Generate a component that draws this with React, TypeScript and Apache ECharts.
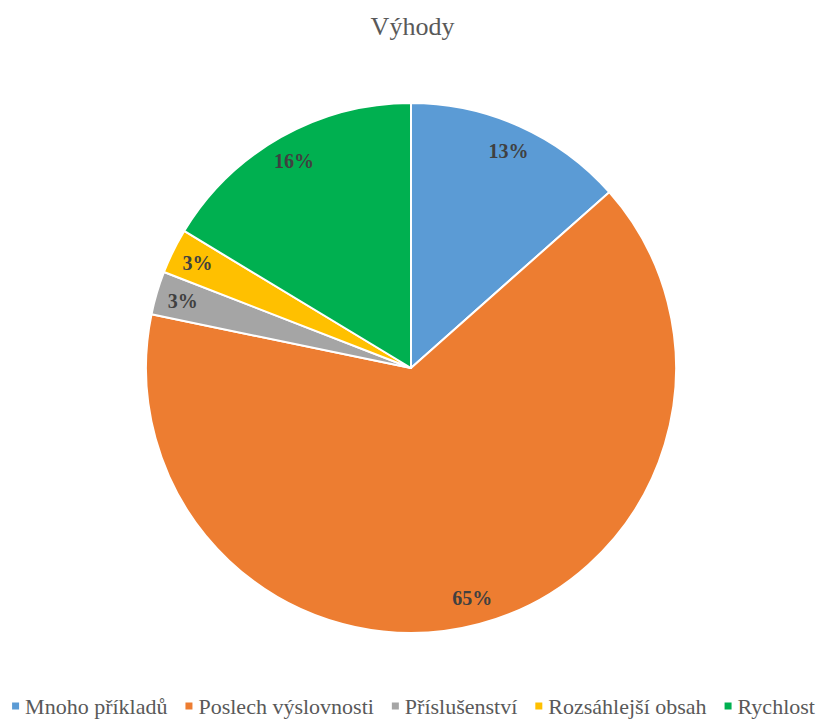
import React, { useEffect, useRef } from "react";
import * as echarts from "echarts";

const categories = ["Mnoho příkladů", "Poslech výslovnosti", "Příslušenství", "Rozsáhlejší obsah", "Rychlost"];
const values = [13.45, 64.8, 2.65, 2.75, 16.35];
const colors = ["#5B9BD5", "#ED7D31", "#A5A5A5", "#FFC000", "#00B050"];
const titleText = "Výhody";
const SERIF = "'Liberation Serif', 'Times New Roman', serif";

export default function App() {
  const ref = useRef<HTMLDivElement>(null);
  useEffect(() => {
    if (!ref.current) return;
    const chart = echarts.init(ref.current, null, { renderer: "svg" });
    const total = values.reduce((a, b) => a + b, 0);
    const data = categories.map((name, i) => ({ name, value: values[i], itemStyle: { color: colors[i] } }));
    chart.setOption({
      animation: false,
      backgroundColor: "#ffffff",
      textStyle: { fontFamily: SERIF },
      title: {
        text: titleText,
        left: "center",
        top: 8,
        textStyle: { fontFamily: SERIF, fontSize: 26, fontWeight: "normal", color: "#595959" },
      },
      legend: {
        data: categories,
        bottom: 3,
        left: "center",
        icon: "rect",
        itemWidth: 9,
        itemHeight: 9,
        itemGap: 16,
        textStyle: { fontFamily: SERIF, fontSize: 22, color: "#595959" },
      },
      series: [
        {
          type: "pie",
          center: [411, 368],
          radius: [0, 265],
          startAngle: 90,
          clockwise: true,
          data,
          label: { show: false },
          labelLine: { show: false },
          itemStyle: { borderColor: "#ffffff", borderWidth: 2 },
          emphasis: { disabled: true },
        },
        {
          type: "pie",
          center: [411, 368],
          radius: [205, 265],
          startAngle: 90,
          clockwise: true,
          silent: true,
          data: categories.map((name, i) => ({ name, value: values[i], itemStyle: { color: "rgba(0,0,0,0)" } })),
          itemStyle: { borderWidth: 0 },
          label: {
            show: true,
            position: "inside",
            formatter: (p: any) => Math.round((p.value / total) * 100) + "%",
            fontFamily: SERIF,
            fontSize: 20,
            fontWeight: "bold",
            color: "#404040",
          },
          labelLine: { show: false },
          emphasis: { disabled: true },
        },
      ],
    });
    return () => chart.dispose();
  }, []);
  return <div ref={ref} style={{ position: "fixed", left: 0, top: 0, width: 825, height: 725 }} />;
}
